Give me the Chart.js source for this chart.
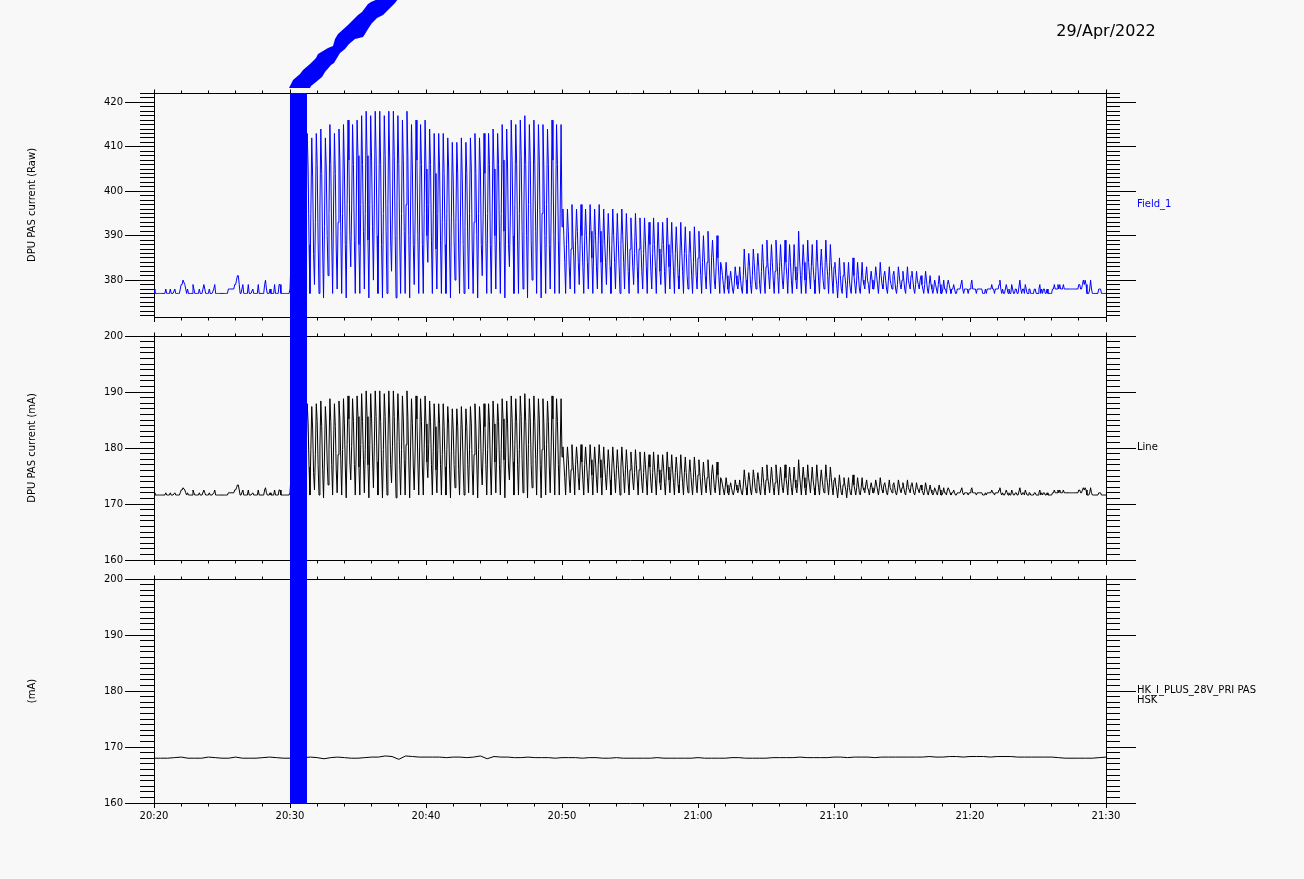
<!DOCTYPE html>
<html>
<head>
<meta charset="utf-8">
<script src="https://cdn.jsdelivr.net/npm/chart.js@4.4.1/dist/chart.umd.min.js"></script>
<style>
html, body { margin: 0; padding: 0; background: #f8f8f8; }
#wrap { position: relative; width: 1304px; height: 879px; }
#wrap canvas { position: absolute; left: 0; top: 0; }
</style>
</head>
<body>
<div id="wrap">
<canvas id="pasRaw" width="1304" height="879"></canvas>
<canvas id="pasMa" width="1304" height="879"></canvas>
<canvas id="hskMa" width="1304" height="879"></canvas>
</div>
<script>
// time axis in seconds of day (UT)
const T_START = 73200;   // 20:20:00
const T_END = 77400;     // 21:30:00
const PAS_STEP = 4;      // s between DPU PAS samples
const HSK_STEP = 30;     // s between HSK samples
const xTicks = [73200, 73800, 74400, 75000, 75600, 76200, 76800, 77400];
const xTickLabels = ['20:20', '20:30', '20:40', '20:50', '21:00', '21:10', '21:20', '21:30'];
const rawTicks = [380, 390, 400, 410, 420];
const maTicks = [160, 170, 180, 190, 200];
const band = [73800, 73875]; // marked interval 20:30:00 - 20:31:15

// DPU PAS current, raw counts (4 s)
const pasRaw = [
 378,377,377,377,377,377,377,377,377,377,377,377,377,378,377,
 377,377,377,378,377,377,377,377,378,377,377,377,377,377,378,
 379,379,380,380,379,378,377,378,377,377,377,377,377,379,378,
 377,377,377,377,377,378,377,377,377,377,379,378,377,377,377,
 377,378,377,377,377,377,378,379,377,377,377,377,377,377,377,
 377,377,377,377,377,377,377,378,378,378,378,378,378,378,379,
 379,380,381,381,379,377,377,377,379,377,377,377,377,377,379,
 377,377,377,377,378,377,377,377,377,377,379,377,377,377,377,
 377,377,379,380,378,377,377,377,378,377,377,377,377,379,377,
 377,377,377,379,379,377,377,377,377,377,377,377,377,377,377,
 378,
 378,390,405,413,404,388,378,395,412,406,389,378,394,413,405,388,378,396,
 413,405,388,377,395, 412,403,386,379,393, 413,406,389,377,396, 414,404,387,376,392, 412,405,390,381,395,
 415,406,389,377,396, 413,404,387,378,393, 414,407,391,377,395, 415,405,388,376,397, 416,407,390,383,396,
 415,406,389,377,394, 416,408,388,377,397, 417,406,391,378,395, 418,408,389,376,397, 417,407,392,380,396,
 418,408,390,377,398, 418,406,388,376,395, 417,408,391,377,397, 418,407,389,382,396, 418,408,390,376,398,
 417,406,389,377,395, 416,407,391,377,397, 418,408,390,376,396, 415,405,388,379,394, 416,407,390,377,396,
 415,406,388,377,395, 416,405,390,384,397, 414,406,389,377,394, 413,404,387,378,395, 413,405,389,377,393,
 413,404,388,377,395, 412,405,387,376,394, 411,403,389,380,393, 411,404,387,377,394, 412,403,388,377,392,
 411,404,389,378,395, 412,405,387,377,393, 413,404,390,376,395, 412,405,388,381,394, 413,404,389,377,395,
 413,406,388,377,394, 414,405,390,378,396, 413,406,389,377,395, 415,407,391,376,396, 414,405,388,383,394,
 416,407,390,377,397, 415,406,389,377,395, 416,408,391,378,396, 417,406,390,376,397, 415,407,389,380,394,
 416,406,391,377,396, 415,407,389,376,395, 415,405,390,377,397, 414,406,388,378,394, 416,407,390,377,396,
 415,406,389,377,395, 415,392,
 396,390,384,377,388, 396,391,383,378,387, 397,390,385,377,389, 396,391,384,379,388, 397,390,383,377,389,
 396,390,384,378,387, 397,391,385,377,388, 396,390,383,378,389, 397,391,384,377,388, 396,389,384,379,387,
 395,390,383,377,388, 396,390,384,378,387, 395,389,383,377,388, 396,390,384,378,387, 395,389,382,377,387,
 394,389,383,379,386, 395,389,383,377,387, 394,388,382,378,386, 394,389,383,377,387, 393,388,382,378,386,
 394,388,383,377,386, 393,387,382,379,386, 393,388,382,377,385, 394,388,383,378,386, 393,387,382,377,386,
 392,387,381,378,385, 393,387,382,377,386, 392,386,381,378,385, 391,386,381,377,384, 392,387,381,378,385,
 391,386,381,377,384, 390,385,381,378,384, 391,386,380,377,385, 389,385,380,378,383, 390,385,381,377,384,
 383,381,379,377,380, 384,381,378,377,380, 382,380,378,377,379, 383,381,379,378,380, 383,380,378,377,381,
 387,383,380,377,382, 386,383,379,377,381, 387,384,380,378,382, 386,383,379,377,382, 388,384,380,377,383,
 389,384,381,378,383, 388,384,380,377,382, 389,385,381,377,383, 388,384,380,378,382, 389,384,381,377,383,
 388,384,380,377,382, 388,383,380,378,382, 391,385,381,377,383, 388,384,380,377,382, 389,384,381,378,383,
 388,383,380,377,382, 389,384,380,377,383, 387,383,380,378,382, 389,384,381,377,382, 388,384,380,377,383,
 384,381,379,376,380, 385,381,378,377,381, 384,381,379,376,380, 384,380,378,377,381, 385,381,379,377,380,
 384,381,378,377,380, 384,380,379,378,381,
 383,380,379,377,380, 382,380,378,378,380, 383,381,379,377,380, 384,381,379,378,381, 382,380,378,377,380,
 383,380,379,378,381, 382,380,378,377,379, 383,381,379,378,380, 382,380,378,377,380, 383,380,379,378,381,
 382,380,378,377,379, 382,380,379,378,380,
 381,379,378,377,379, 382,380,378,377,379, 381,379,378,377,378, 380,379,378,377,379, 381,379,377,377,378,
 380,378,378,377,379, 380,379,378,377,378,
 378,379,378,377,377,378,378,378,378,378,380,378,377,378,378,
 378,378,377,378,378,379,380,378,378,378,378,377,378,378,378,
 378,378,378,377,377,377,378,377,378,378,378,378,378,379,378,
 378,377,378,378,378,378,379,380,378,377,378,377,377,378,379,
 378,377,378,377,377,379,378,377,377,378,378,377,377,377,380,
 378,377,378,378,377,379,378,377,377,378,378,377,377,377,377,
 378,378,377,377,377,378,379,377,378,377,378,378,377,377,378,
 377,377,377,377,377,378,378,379,378,378,378,379,378,379,378,
 378,378,379,378,378,378,378,378,378,378,378,378,378,378,378,
 378,378,378,378,379,379,378,378,379,380,379,380,379,377,377,
 377,378,380,378,377,377,377,377,377,377,377,378,378,378,377,
 377,377,377,377,377
];

// DPU PAS current, mA (4 s)
const pasMa = [
 172.0,171.6,171.6,171.6,171.6,171.6,171.6,171.6,171.6,171.6,171.6,171.6,171.6,172.0,171.6,
 171.6,171.6,171.6,172.0,171.6,171.6,171.6,171.6,172.0,171.6,171.6,171.6,171.6,171.6,172.0,
 172.5,172.5,172.9,172.9,172.5,172.0,171.6,172.0,171.6,171.6,171.6,171.6,171.6,172.5,172.0,
 171.6,171.6,171.6,171.6,171.6,172.0,171.6,171.6,171.6,171.6,172.5,172.0,171.6,171.6,171.6,
 171.6,172.0,171.6,171.6,171.6,171.6,172.0,172.5,171.6,171.6,171.6,171.6,171.6,171.6,171.6,
 171.6,171.6,171.6,171.6,171.6,171.6,171.6,172.0,172.0,172.0,172.0,172.0,172.0,172.0,172.5,
 172.5,172.9,173.4,173.4,172.5,171.6,171.6,171.6,172.5,171.6,171.6,171.6,171.6,171.6,172.5,
 171.6,171.6,171.6,171.6,172.0,171.6,171.6,171.6,171.6,171.6,172.5,171.6,171.6,171.6,171.6,
 171.6,171.6,172.5,172.9,172.0,171.6,171.6,171.6,172.0,171.6,171.6,171.6,171.6,172.5,171.6,
 171.6,171.6,171.6,172.5,172.5,171.6,171.6,171.6,171.6,171.6,171.6,171.6,171.6,171.6,171.6,
 172.0,
 172.0,177.5,184.3,187.9,183.8,176.6,172.0,179.7,187.4,184.7,177.0,172.0,179.3,187.9,184.3,176.6,172.0,180.2,
 187.9,184.3,176.6,171.6,179.7, 187.4,183.4,175.6,172.5,178.8, 187.9,184.7,177.0,171.6,180.2, 188.4,183.8,176.1,171.1,178.4, 187.4,184.3,177.5,173.4,179.7,
 188.8,184.7,177.0,171.6,180.2, 187.9,183.8,176.1,172.0,178.8, 188.4,185.2,177.9,171.6,179.7, 188.8,184.3,176.6,171.1,180.6, 189.3,185.2,177.5,174.3,180.2,
 188.8,184.7,177.0,171.6,179.3, 189.3,185.6,176.6,171.6,180.6, 189.7,184.7,177.9,172.0,179.7, 190.2,185.6,177.0,171.1,180.6, 189.7,185.2,178.4,172.9,180.2,
 190.2,185.6,177.5,171.6,181.1, 190.2,184.7,176.6,171.1,179.7, 189.7,185.6,177.9,171.6,180.6, 190.2,185.2,177.0,173.8,180.2, 190.2,185.6,177.5,171.1,181.1,
 189.7,184.7,177.0,171.6,179.7, 189.3,185.2,177.9,171.6,180.6, 190.2,185.6,177.5,171.1,180.2, 188.8,184.3,176.6,172.5,179.3, 189.3,185.2,177.5,171.6,180.2,
 188.8,184.7,176.6,171.6,179.7, 189.3,184.3,177.5,174.7,180.6, 188.4,184.7,177.0,171.6,179.3, 187.9,183.8,176.1,172.0,179.7, 187.9,184.3,177.0,171.6,178.8,
 187.9,183.8,176.6,171.6,179.7, 187.4,184.3,176.1,171.1,179.3, 187.0,183.4,177.0,172.9,178.8, 187.0,183.8,176.1,171.6,179.3, 187.4,183.4,176.6,171.6,178.4,
 187.0,183.8,177.0,172.0,179.7, 187.4,184.3,176.1,171.6,178.8, 187.9,183.8,177.5,171.1,179.7, 187.4,184.3,176.6,173.4,179.3, 187.9,183.8,177.0,171.6,179.7,
 187.9,184.7,176.6,171.6,179.3, 188.4,184.3,177.5,172.0,180.2, 187.9,184.7,177.0,171.6,179.7, 188.8,185.2,177.9,171.1,180.2, 188.4,184.3,176.6,174.3,179.3,
 189.3,185.2,177.5,171.6,180.6, 188.8,184.7,177.0,171.6,179.7, 189.3,185.6,177.9,172.0,180.2, 189.7,184.7,177.5,171.1,180.6, 188.8,185.2,177.0,172.9,179.3,
 189.3,184.7,177.9,171.6,180.2, 188.8,185.2,177.0,171.1,179.7, 188.8,184.3,177.5,171.6,180.6, 188.4,184.7,176.6,172.0,179.3, 189.3,185.2,177.5,171.6,180.2,
 188.8,184.7,177.0,171.6,179.7, 188.8,178.4,
 180.2,177.5,174.7,171.6,176.6, 180.2,177.9,174.3,172.0,176.1, 180.6,177.5,175.2,171.6,177.0, 180.2,177.9,174.7,172.5,176.6, 180.6,177.5,174.3,171.6,177.0,
 180.2,177.5,174.7,172.0,176.1, 180.6,177.9,175.2,171.6,176.6, 180.2,177.5,174.3,172.0,177.0, 180.6,177.9,174.7,171.6,176.6, 180.2,177.0,174.7,172.5,176.1,
 179.7,177.5,174.3,171.6,176.6, 180.2,177.5,174.7,172.0,176.1, 179.7,177.0,174.3,171.6,176.6, 180.2,177.5,174.7,172.0,176.1, 179.7,177.0,173.8,171.6,176.1,
 179.3,177.0,174.3,172.5,175.6, 179.7,177.0,174.3,171.6,176.1, 179.3,176.6,173.8,172.0,175.6, 179.3,177.0,174.3,171.6,176.1, 178.8,176.6,173.8,172.0,175.6,
 179.3,176.6,174.3,171.6,175.6, 178.8,176.1,173.8,172.5,175.6, 178.8,176.6,173.8,171.6,175.2, 179.3,176.6,174.3,172.0,175.6, 178.8,176.1,173.8,171.6,175.6,
 178.4,176.1,173.4,172.0,175.2, 178.8,176.1,173.8,171.6,175.6, 178.4,175.6,173.4,172.0,175.2, 177.9,175.6,173.4,171.6,174.7, 178.4,176.1,173.4,172.0,175.2,
 177.9,175.6,173.4,171.6,174.7, 177.5,175.2,173.4,172.0,174.7, 177.9,175.6,172.9,171.6,175.2, 177.0,175.2,172.9,172.0,174.3, 177.5,175.2,173.4,171.6,174.7,
 174.3,173.4,172.5,171.6,172.9, 174.7,173.4,172.0,171.6,172.9, 173.8,172.9,172.0,171.6,172.5, 174.3,173.4,172.5,172.0,172.9, 174.3,172.9,172.0,171.6,173.4,
 176.1,174.3,172.9,171.6,173.8, 175.6,174.3,172.5,171.6,173.4, 176.1,174.7,172.9,172.0,173.8, 175.6,174.3,172.5,171.6,173.8, 176.6,174.7,172.9,171.6,174.3,
 177.0,174.7,173.4,172.0,174.3, 176.6,174.7,172.9,171.6,173.8, 177.0,175.2,173.4,171.6,174.3, 176.6,174.7,172.9,172.0,173.8, 177.0,174.7,173.4,171.6,174.3,
 176.6,174.7,172.9,171.6,173.8, 176.6,174.3,172.9,172.0,173.8, 177.9,175.2,173.4,171.6,174.3, 176.6,174.7,172.9,171.6,173.8, 177.0,174.7,173.4,172.0,174.3,
 176.6,174.3,172.9,171.6,173.8, 177.0,174.7,172.9,171.6,174.3, 176.1,174.3,172.9,172.0,173.8, 177.0,174.7,173.4,171.6,173.8, 176.6,174.7,172.9,171.6,174.3,
 174.7,173.4,172.5,171.1,172.9, 175.2,173.4,172.0,171.6,173.4, 174.7,173.4,172.5,171.1,172.9, 174.7,172.9,172.0,171.6,173.4, 175.2,173.4,172.5,171.6,172.9,
 174.7,173.4,172.0,171.6,172.9, 174.7,172.9,172.5,172.0,173.4,
 174.3,172.9,172.5,171.6,172.9, 173.8,172.9,172.0,172.0,172.9, 174.3,173.4,172.5,171.6,172.9, 174.7,173.4,172.5,172.0,173.4, 173.8,172.9,172.0,171.6,172.9,
 174.3,172.9,172.5,172.0,173.4, 173.8,172.9,172.0,171.6,172.5, 174.3,173.4,172.5,172.0,172.9, 173.8,172.9,172.0,171.6,172.9, 174.3,172.9,172.5,172.0,173.4,
 173.8,172.9,172.0,171.6,172.5, 173.8,172.9,172.5,172.0,172.9,
 173.4,172.5,172.0,171.6,172.5, 173.8,172.9,172.0,171.6,172.5, 173.4,172.5,172.0,171.6,172.0, 172.9,172.5,172.0,171.6,172.5, 173.4,172.5,171.6,171.6,172.0,
 172.9,172.0,172.0,171.6,172.5, 172.9,172.5,172.0,171.6,172.0,
 172.0,172.5,172.0,171.6,171.6,172.0,172.0,172.0,172.0,172.0,172.9,172.0,171.6,172.0,172.0,
 172.0,172.0,171.6,172.0,172.0,172.5,172.9,172.0,172.0,172.0,172.0,171.6,172.0,172.0,172.0,
 172.0,172.0,172.0,171.6,171.6,171.6,172.0,171.6,172.0,172.0,172.0,172.0,172.0,172.5,172.0,
 172.0,171.6,172.0,172.0,172.0,172.0,172.5,172.9,172.0,171.6,172.0,171.6,171.6,172.0,172.5,
 172.0,171.6,172.0,171.6,171.6,172.5,172.0,171.6,171.6,172.0,172.0,171.6,171.6,171.6,172.9,
 172.0,171.6,172.0,172.0,171.6,172.5,172.0,171.6,171.6,172.0,172.0,171.6,171.6,171.6,171.6,
 172.0,172.0,171.6,171.6,171.6,172.0,172.5,171.6,172.0,171.6,172.0,172.0,171.6,171.6,172.0,
 171.6,171.6,171.6,171.6,171.6,172.0,172.0,172.5,172.0,172.0,172.0,172.5,172.0,172.5,172.0,
 172.0,172.0,172.5,172.0,172.0,172.0,172.0,172.0,172.0,172.0,172.0,172.0,172.0,172.0,172.0,
 172.0,172.0,172.0,172.0,172.5,172.5,172.0,172.0,172.5,172.9,172.5,172.9,172.5,171.6,171.6,
 171.6,172.0,172.9,172.0,171.6,171.6,171.6,171.6,171.6,171.6,171.6,172.0,172.0,172.0,171.6,
 171.6,171.6,171.6,171.6,171.6
];

// HK_I_PLUS_28V_PRI, mA (30 s)
const hskMa = [
 168.0,168.0,168.0,168.1,168.2,168.0,168.0,168.0,168.2,168.1, 168.0,168.0,168.2,168.0,168.0,168.0,168.1,168.2,168.1,168.0,
 168.0,168.0,168.1,168.2,168.1,167.9,168.1,168.2,168.1,168.0, 168.0,168.1,168.2,168.2,168.4,168.3,167.8,168.4,168.3,168.2,
 168.2,168.2,168.2,168.1,168.2,168.2,168.1,168.2,168.4,167.9,168.3,168.2,168.2,168.1,168.1,168.2,168.1,
 168.1,168.1,168.0,168.1,168.1,168.1,168.0,168.1,168.1,168.0,168.0,168.1,168.0,168.0,
 168.0,168.0,168.0,168.1,168.0,168.0,168.0,168.0,168.0,168.1,168.0,168.0,168.0,168.0,168.1,168.1,168.0,168.0,168.0,168.0,
 168.1,168.1,168.1,168.1,168.2,168.1,168.1,168.1,168.1,168.2,168.2,168.1,168.2,168.2,168.2,168.1,168.2,168.2,168.2,168.2,
 168.2,168.2,168.2,168.3,168.2,168.2,168.3,168.3,168.2,168.3,168.3,168.3,168.2,168.3,168.3,
 168.3,168.2,168.2,168.2,168.2,168.2,168.2,168.1,168.0,168.0,168.0,168.0,168.0,168.1,168.2
];

Chart.defaults.font.family = '"DejaVu Sans", sans-serif';
Chart.defaults.font.size = 10;
Chart.defaults.color = '#000';

const panels = [
  { id: 'pasRaw', data: pasRaw, step: PAS_STEP, min: 371.7, max: 422.1, ticks: rawTicks, color: '#0000ff',
    title: 'DPU PAS current (Raw)', label: ['Field_1'], top: 93, bottom: 317, timeLabels: false },
  { id: 'pasMa', data: pasMa, step: PAS_STEP, min: 160, max: 200, ticks: maTicks, color: '#000000',
    title: 'DPU PAS current (mA)', label: ['Line'], top: 336, bottom: 560, timeLabels: false },
  { id: 'hskMa', data: hskMa, step: HSK_STEP, min: 160, max: 200, ticks: maTicks, color: '#000000',
    title: '(mA)', label: ['HK_I_PLUS_28V_PRI PAS', 'HSK'], top: 579, bottom: 803, timeLabels: true }
];
const PLOT_LEFT = 154, PLOT_RIGHT = 1106;

// stray blue smear above the marked interval, px offsets from the band's top-left corner
const smear = [[-1,-5],[3,-13],[10,-19],[13,-23],[20,-29],[26,-35],[28,-39],[38,-45],[43,-47],[45,-54],[48,-59],
  [58,-68],[60,-70],[68,-78],[72,-81],[78,-89],[81,-91],[88,-94],[108,-94],[105,-90],[98,-83],[93,-78],[87,-75],
  [82,-70],[78,-64],[75,-59],[73,-56],[65,-54],[59,-49],[55,-44],[50,-40],[44,-30],[41,-28],[35,-21],[32,-16],
  [26,-11],[21,-7],[20,-5]];

const crisp = v => Math.round(v - 0.5) + 0.5;

// IDL style box: top/right edges, minor ticks, right hand ticks and series label
const idlFrame = {
  id: 'idlFrame',
  afterDraw(chart, args, opts) {
    const { ctx, chartArea: a, scales: { x, y } } = chart;
    ctx.save();
    ctx.strokeStyle = '#000';
    ctx.lineWidth = 1;
    ctx.beginPath();
    const top = crisp(a.top), bot = crisp(a.bottom), right = crisp(a.right);
    ctx.moveTo(a.left, top); ctx.lineTo(a.right + 1, top);
    ctx.moveTo(right, a.top); ctx.lineTo(right, a.bottom);
    for (let t = T_START; t <= T_END; t += 120) {
      const xp = crisp(x.getPixelForValue(t));
      const major = xTicks.includes(t);
      ctx.moveTo(xp, top); ctx.lineTo(xp, top - (major ? 4 : 3));
      if (!major) { ctx.moveTo(xp, bot); ctx.lineTo(xp, bot + 3); }
    }
    for (let v = Math.ceil(y.min); v <= Math.floor(y.max); v++) {
      const yp = crisp(y.getPixelForValue(v));
      const major = opts.ticks.includes(v);
      if (!major) { ctx.moveTo(a.left - 14, yp); ctx.lineTo(a.left, yp); }
      ctx.moveTo(a.right, yp); ctx.lineTo(a.right + (major ? 30 : 14), yp);
    }
    ctx.stroke();

    ctx.fillStyle = opts.labelColor;
    ctx.font = '10px "DejaVu Sans"';
    ctx.textAlign = 'left';
    ctx.textBaseline = 'middle';
    const mid = (a.top + a.bottom) / 2 - 1;
    opts.label.forEach((s, i) => ctx.fillText(s, a.right + 31, mid + i * 10));

    if (opts.date) {
      ctx.fillStyle = '#000';
      ctx.font = '16px "DejaVu Sans"';
      ctx.textAlign = 'center';
      ctx.fillText(opts.date, a.right, 32);
    }
    ctx.restore();
  }
};

const charts = [];

// marked interval, drawn across all three panels from the top canvas
const bandMark = {
  id: 'bandMark',
  afterDraw(chart) {
    const { ctx, scales: { x } } = chart;
    const x0 = Math.round(x.getPixelForValue(band[0]));
    const x1 = Math.round(x.getPixelForValue(band[1]));
    const top = charts[0].chartArea.top;
    ctx.save();
    ctx.fillStyle = '#0000ff';
    ctx.fillRect(x0, top, x1 - x0, chart.chartArea.bottom - top + 1);
    ctx.beginPath();
    smear.forEach(([dx, dy], i) => i ? ctx.lineTo(x0 + dx, top + dy) : ctx.moveTo(x0 + dx, top + dy));
    ctx.closePath();
    ctx.fill();
    ctx.restore();
  }
};

panels.forEach((p, k) => {
  const xAxisH = p.timeLabels ? 25 : 5;
  const last = k === panels.length - 1;
  charts.push(new Chart(document.getElementById(p.id), {
    type: 'line',
    data: {
      labels: p.data.map((_, i) => T_START + i * p.step),
      datasets: [{ data: p.data, borderColor: p.color, borderWidth: 1, pointRadius: 0, tension: 0, fill: false }]
    },
    options: {
      responsive: false,
      animation: false,
      devicePixelRatio: 1,
      events: [],
      layout: { padding: { left: 0, right: 1304 - PLOT_RIGHT, top: p.top, bottom: 879 - p.bottom - xAxisH } },
      plugins: {
        legend: { display: false },
        tooltip: { enabled: false },
        idlFrame: { ticks: p.ticks, label: p.label, labelColor: p.color, date: k === 0 ? '29/Apr/2022' : null }
      },
      scales: {
        x: {
          type: 'linear', min: T_START, max: T_END, bounds: 'data',
          afterBuildTicks: s => { s.ticks = xTicks.map(v => ({ value: v })); },
          afterFit: s => { s.height = xAxisH; },
          ticks: {
            display: p.timeLabels, autoSkip: false, maxRotation: 0, padding: 2,
            callback: v => { const j = xTicks.indexOf(v); return j < 0 ? '' : xTickLabels[j]; }
          },
          grid: { drawOnChartArea: false, tickLength: 5, color: '#000' },
          border: { color: '#000' }
        },
        y: {
          min: p.min, max: p.max, bounds: 'data',
          afterBuildTicks: s => { s.ticks = p.ticks.map(v => ({ value: v })); },
          afterFit: s => { s.width = PLOT_LEFT; },
          ticks: { padding: 2 },
          grid: { drawOnChartArea: false, tickLength: 29, color: '#000' },
          border: { color: '#000' },
          title: { display: true, text: p.title, padding: { top: 26, bottom: 0 } }
        }
      }
    },
    plugins: last ? [idlFrame, bandMark] : [idlFrame]
  }));
});
</script>
</body>
</html>
